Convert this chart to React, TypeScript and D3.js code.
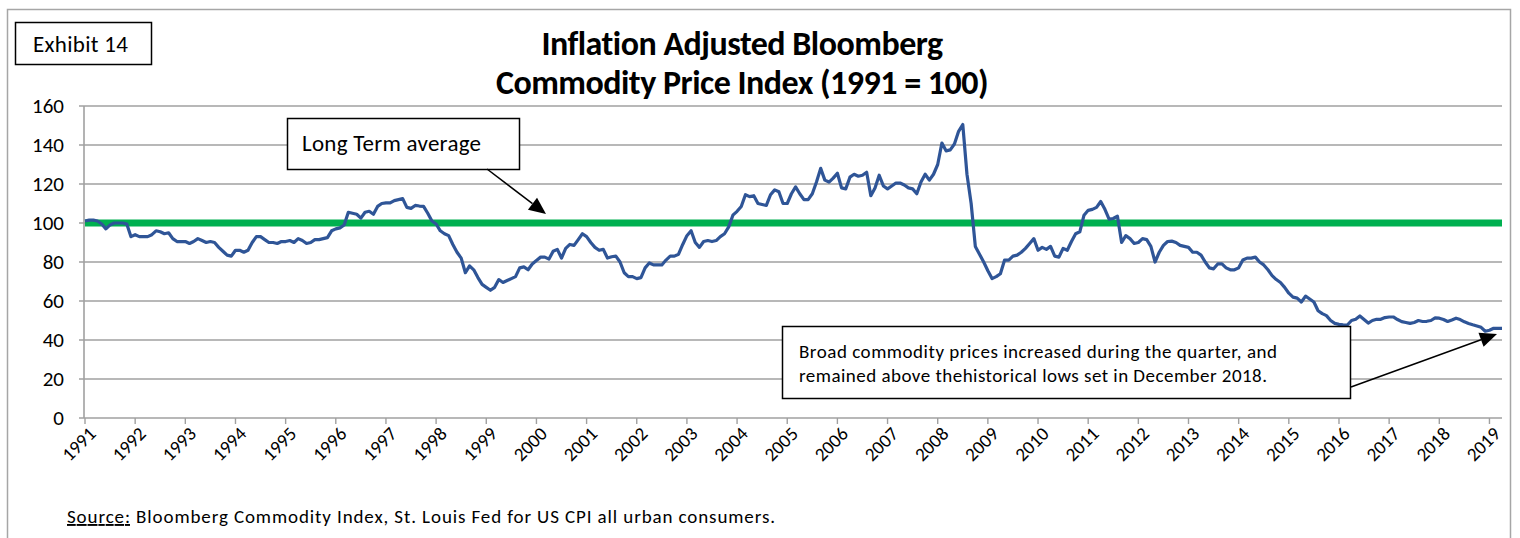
import React from 'react';
import * as d3 from 'd3';

// monthly index values, Jan 1991 - Apr 2019 (1991 = 100)
const values1990s = [
  101, 101.5, 101.5, 101, 99.5, 97, 99, 100, 100, 100, 99.5, 93,
  94, 93, 93, 93, 94, 96, 95.5, 94.5, 95, 92, 90.5, 90.5,
  90.5, 89.5, 90.5, 92, 91, 90, 90.5, 90, 87.5, 85.5, 83.5, 83,
  86, 86, 85, 86, 90, 93, 93, 91.5, 90, 90, 89.5, 90.5,
  90.5, 91, 90, 92, 91, 89.5, 90, 91.5, 91.5, 92, 92.5, 96,
  97, 97.5, 99, 105.5, 105, 104.5, 102.5, 105.5, 106, 104.5, 108.5, 110,
  110.3, 110.3, 111.5, 112, 112.5, 108, 107.5, 109, 108.7, 108.5, 105, 101,
  99.5, 96, 94.5, 93.5, 89, 85, 82, 74.5, 78, 76, 72, 68.5,
  67, 65.5, 67, 71, 69.5, 70.5, 71.5, 72.5, 77, 77.5, 76, 79,
];
const values2000s = [
  80.8, 82.5, 82.5, 81.5, 85.5, 86.5, 82, 87, 89, 88.5, 91.5, 94.5,
  93, 90, 87.5, 86, 86.5, 82, 82.7, 83, 80, 74.5, 72.5, 72.5,
  71.5, 72, 77, 79.5, 78.5, 78.5, 78.5, 81, 83, 83, 84, 89,
  93.5, 96, 90, 87.5, 90.5, 91, 90.5, 91, 93, 94.5, 98, 104,
  106, 108.5, 114.5, 113.5, 114, 110, 109.5, 109, 114.5, 117, 116, 110,
  110, 115, 118.5, 115, 112, 112, 115, 121, 128, 122, 121, 123,
  125.5, 118, 117.5, 123.5, 125, 124, 124.5, 126, 114, 118, 124.5, 119,
  117.5, 119, 120.5, 120.5, 119.5, 118, 117.5, 115, 121, 125, 122, 125,
  130, 141, 137, 137.5, 140.5, 147, 150.5, 125, 110, 88, 84, 80,
  75.5, 71.5, 72.5, 74, 81, 81, 83, 83.5, 85, 87, 89.5, 92,
];
const values2010s = [
  86, 87.5, 86.5, 88, 83, 82.5, 87, 86, 90.5, 94.5, 95.5, 104,
  106.5, 107, 108, 111, 107, 102, 102.3, 103.5, 90, 93.5, 92, 89.5,
  90, 92, 91.5, 88, 80, 85, 88.5, 90.5, 90.7, 90, 88.5, 88,
  87.5, 85, 85, 83.5, 80, 77, 76.5, 79, 79, 77, 76, 76,
  77, 81, 82, 82, 82.5, 80, 78.5, 76, 73, 71, 69.5, 67,
  64, 62, 61.5, 59.5, 62.5, 61, 59.5, 55, 53.5, 52.5, 50, 48.5,
  48, 47.8, 47.7, 50, 50.6, 52.3, 50.5, 48.7, 50, 50.6, 50.6, 51.5,
  51.8, 51.8, 50.5, 49.4, 49, 48.5, 49, 50, 49.5, 49.6, 50, 51.3,
  51.2, 50.5, 49.5, 50.3, 51.2, 50.5, 49.3, 48.5, 47.8, 47.2, 46.5, 44.5,
  45, 46, 46, 46,
];
const longTermAverage = 100;
const yearLabels = d3.range(1991, 2020).map(String);
const yTicks = [0, 20, 40, 60, 80, 100, 120, 140, 160];

const titleLines = ['Inflation Adjusted Bloomberg', 'Commodity Price Index (1991 = 100)'];
const noteLines = [
  'Broad commodity prices increased during the quarter, and',
  'remained above thehistorical lows set in December 2018.',
];

const FONT = 'Carlito, Calibri, Lato, sans-serif';

export default function App() {
  const values = [...values1990s, ...values2000s, ...values2010s];

  const width = 1520;
  const height = 538;
  const left = 85;
  const right = 1502;
  const top = 106;
  const bottom = 418;

  const x = d3.scaleLinear().domain([0, values.length - 1]).range([left, right]);
  const y = d3.scaleLinear().domain([0, 160]).range([bottom, top]);

  const line = d3.line<number>()
    .x((_, i) => x(i))
    .y(d => y(d));

  const arrow = (x1, y1, x2, y2) => {
    const a = Math.atan2(y2 - y1, x2 - x1);
    const len = 17;
    const w = 7.5;
    const bx = x2 - len * Math.cos(a);
    const by = y2 - len * Math.sin(a);
    const px = -Math.sin(a) * w;
    const py = Math.cos(a) * w;
    return (
      <g>
        <line x1={x1} y1={y1} x2={bx} y2={by} stroke="#000" strokeWidth={1.5} />
        <path d={`M${x2},${y2}L${bx + px},${by + py}L${bx - px},${by - py}Z`} fill="#000" />
      </g>
    );
  };

  return (
    <div style={{ position: 'absolute', left: 0, top: 0 }}>
      <svg width={width} height={height} style={{ display: 'block', background: '#fff' }}>
        {/* outer frame */}
        <rect x={7.5} y={9.5} width={1503} height={560} fill="none" stroke="#a6a6a6" strokeWidth={1.5} />

        {/* exhibit label */}
        <rect x={15.5} y={22.5} width={136} height={42} fill="#fff" stroke="#000" strokeWidth={1.5} />
        <text x={33} y={52} fontFamily={FONT} fontSize={23} textLength={95} lengthAdjust="spacing">Exhibit 14</text>

        {/* title */}
        {titleLines.map((t, i) => (
          <text key={t} x={742} y={55 + i * 39} textAnchor="middle" fontFamily={FONT}
            fontSize={34} fontWeight="bold" letterSpacing={-0.5}>{t}</text>
        ))}

        {/* gridlines and y axis */}
        {yTicks.map(t => (
          <g key={t}>
            <line x1={left - 6} x2={right} y1={y(t)} y2={y(t)} stroke="#a0a0a0" strokeWidth={1.6} />
            <text x={64} y={y(t) + 7} textAnchor="end" fontFamily={FONT} fontSize={21}>{t}</text>
          </g>
        ))}
        <line x1={left - 1} x2={left - 1} y1={top} y2={bottom} stroke="#a0a0a0" strokeWidth={1.6} />

        {/* x axis ticks and labels */}
        {yearLabels.map((yr, i) => {
          const tx = x(i * 12);
          return (
            <g key={yr}>
              <line x1={tx} x2={tx} y1={bottom} y2={bottom + 6} stroke="#a0a0a0" strokeWidth={1.4} />
              <text transform={`translate(${tx + 12},${bottom + 17}) rotate(-45)`} textAnchor="end"
                fontFamily={FONT} fontSize={19}>{yr}</text>
            </g>
          );
        })}

        {/* long-term average */}
        <line x1={left} x2={right} y1={y(longTermAverage)} y2={y(longTermAverage)}
          stroke="#00b050" strokeWidth={7} />

        {/* index line */}
        <path d={line(values) ?? ''} fill="none" stroke="#2f5597" strokeWidth={3.2} strokeLinejoin="round" />

        {/* annotation: long term average */}
        <rect x={287.5} y={118.5} width={232} height={51} fill="#fff" stroke="#000" strokeWidth={1.5} />
        <text x={302} y={151} fontFamily={FONT} fontSize={23} textLength={179} lengthAdjust="spacing">Long Term average</text>
        {arrow(487, 169, 546, 214)}

        {/* annotation: note */}
        <rect x={782.5} y={326.5} width={568} height={72} fill="#fff" stroke="#000" strokeWidth={1.5} />
        {noteLines.map((t, i) => (
          <text key={t} x={799} y={358 + i * 24} fontFamily={FONT} fontSize={19}
            textLength={i === 0 ? 478 : 468} lengthAdjust="spacing">{t}</text>
        ))}
        {arrow(1351, 387, 1497, 334)}

        {/* source */}
        <text x={67} y={523} fontFamily={FONT} fontSize={19} textLength={708} lengthAdjust="spacing">
          <tspan textDecoration="underline">Source:</tspan>
          <tspan>{'  Bloomberg Commodity Index, St. Louis Fed for US CPI all urban consumers.'}</tspan>
        </text>
      </svg>
    </div>
  );
}
